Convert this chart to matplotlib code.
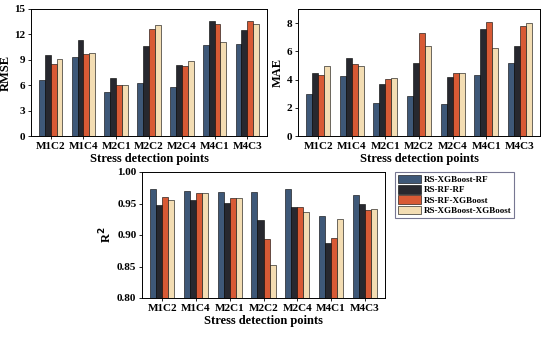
import matplotlib
matplotlib.use('Agg')
import matplotlib.pyplot as plt
import numpy as np

points = ['M1C2', 'M1C4', 'M2C1', 'M2C2', 'M2C4', 'M4C1', 'M4C3']
models = ['RS-XGBoost-RF', 'RS-RF-RF', 'RS-RF-XGBoost', 'RS-XGBoost-XGBoost']
colors = ['#3e5878', '#27282f', '#d85a35', '#f3ddb3']

rmse_xgb_rf = [6.6, 9.3, 5.2, 6.3, 5.8, 10.8, 10.9]
rmse_rf_rf = [9.6, 11.3, 6.8, 10.6, 8.4, 13.6, 12.5]
rmse_rf_xgb = [8.5, 9.7, 6.0, 12.6, 8.3, 13.2, 13.6]
rmse_xgb_xgb = [9.1, 9.8, 6.0, 13.1, 8.9, 11.1, 13.2]

mae_xgb_rf = [3.0, 4.25, 2.35, 2.85, 2.3, 4.35, 5.2]
mae_rf_rf = [4.45, 5.5, 3.65, 5.2, 4.15, 7.55, 6.35]
mae_rf_xgb = [4.3, 5.1, 4.05, 7.3, 4.45, 8.05, 7.8]
mae_xgb_xgb = [4.95, 4.95, 4.1, 6.4, 4.45, 6.25, 8.0]

r2_xgb_rf = [0.973, 0.970, 0.969, 0.969, 0.973, 0.930, 0.963]
r2_rf_rf = [0.948, 0.955, 0.950, 0.924, 0.945, 0.888, 0.949]
r2_rf_xgb = [0.961, 0.967, 0.959, 0.893, 0.945, 0.896, 0.940]
r2_xgb_xgb = [0.955, 0.967, 0.959, 0.853, 0.936, 0.926, 0.941]

plt.rcParams['font.family'] = 'Liberation Serif'
plt.rcParams['font.weight'] = 'bold'
plt.rcParams['axes.labelweight'] = 'bold'
plt.rcParams['font.size'] = 8

fig = plt.figure(figsize=(5.5, 3.38), dpi=100)
W, H = 550, 338


def add_ax(l, t, r, b):
    return fig.add_axes([l / W, 1 - b / H, (r - l) / W, (b - t) / H])


def bars(ax, series, ylim, yticks, ylabel, fmt):
    x = np.arange(len(points))
    w = 0.18
    for i, s in enumerate(series):
        ax.bar(x + (i - 1.5) * w, np.array(s) - ylim[0], w, bottom=ylim[0],
               color=colors[i], edgecolor='black', linewidth=0.4, label=models[i])
    ax.set_xlim(-0.6, len(points) - 0.4)
    ax.set_ylim(*ylim)
    ax.set_yticks(yticks)
    ax.set_yticklabels([fmt.format(v) for v in yticks])
    ax.set_xticks(x)
    ax.set_xticklabels(points)
    ax.set_ylabel(ylabel, fontsize=9, labelpad=2)
    ax.set_xlabel('Stress detection points', fontsize=9, labelpad=2)
    ax.tick_params(axis='both', length=2, width=0.6, pad=2)
    for sp in ax.spines.values():
        sp.set_linewidth(0.7)


ax1 = add_ax(31, 9, 267, 136)
bars(ax1, [rmse_xgb_rf, rmse_rf_rf, rmse_rf_xgb, rmse_xgb_xgb], (0, 15),
     [0, 3, 6, 9, 12, 15], 'RMSE', '{:g}')

ax2 = add_ax(298, 9, 540, 136)
bars(ax2, [mae_xgb_rf, mae_rf_rf, mae_rf_xgb, mae_xgb_xgb], (0, 9),
     [0, 2, 4, 6, 8], 'MAE', '{:g}')

ax3 = add_ax(142, 172, 385, 298)
bars(ax3, [r2_xgb_rf, r2_rf_rf, r2_rf_xgb, r2_xgb_xgb], (0.80, 1.00),
     [0.80, 0.85, 0.90, 0.95, 1.00], 'R$^2$', '{:.2f}')

handles, labels = ax3.get_legend_handles_labels()
leg = fig.legend(handles, labels, loc='upper left',
                 bbox_to_anchor=(395 / W, 1 - 172 / H), fontsize=6.5,
                 frameon=True, fancybox=False, edgecolor='#555577',
                 handlelength=2.6, handleheight=1.1, handletextpad=0.3,
                 labelspacing=0.1, borderpad=0.3, borderaxespad=0)
leg.get_frame().set_linewidth(0.8)

fig.savefig('out.png', dpi=100)
